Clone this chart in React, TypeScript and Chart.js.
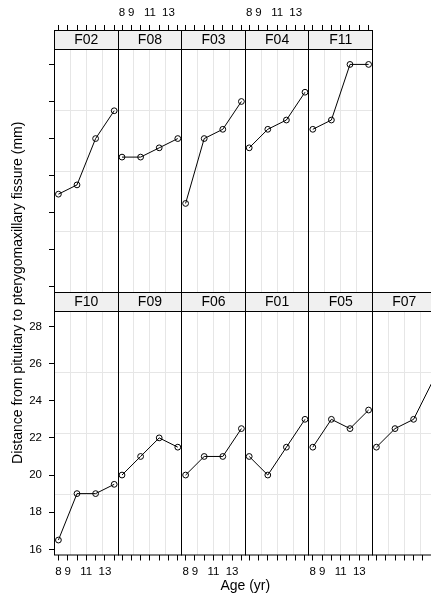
import React, { useEffect, useRef } from 'react';
import { Chart, registerables } from 'chart.js';

Chart.register(...registerables);

// Orthodont growth data, female subjects: distance (mm) at ages 8, 10, 12, 14
const ages = [8, 10, 12, 14];

const F01 = [21, 20, 21.5, 23];
const F02 = [21, 21.5, 24, 25.5];
const F03 = [20.5, 24, 24.5, 26];
const F04 = [23.5, 24.5, 25, 26.5];
const F05 = [21.5, 23, 22.5, 23.5];
const F06 = [20, 21, 21, 22.5];
const F07 = [21.5, 22.5, 23, 25];
const F08 = [23, 23, 23.5, 24];
const F09 = [20, 21, 22, 21.5];
const F10 = [16.5, 19, 19, 19.5];
const F11 = [24.5, 25, 28, 28];

const subjects: Record<string, number[]> = { F01, F02, F03, F04, F05, F06, F07, F08, F09, F10, F11 };

// panel order, top row then bottom row
const topRow = ['F02', 'F08', 'F03', 'F04', 'F11'];
const bottomRow = ['F10', 'F09', 'F06', 'F01', 'F05', 'F07'];

const xTicks = [8, 9, 10, 11, 12, 13, 14];
const xTickLabels = ['8', '9', '', '11', '', '13', ''];
const yTicks = [16, 18, 20, 22, 24, 26, 28];
const yTickLabels = ['16', '18', '20', '22', '24', '26', '28'];
const xLimits = [7.58, 14.42];
const yLimits = [15.695, 28.805];

const xTitle = 'Age (yr)';
const yTitle = 'Distance from pituitary to pterygomaxillary fissure (mm)';

const FONT = '"Liberation Sans", Arial, Helvetica, sans-serif';

// trellis geometry
const LEFT = 54.5;
const COL_W = 63.6;
const TICK = 5.5;
const rowsLayout = [
  { names: topRow, stripTop: 30.5, panelTop: 49.5, panelBottom: 292.5 },
  { names: bottomRow, stripTop: 292.5, panelTop: 311.5, panelBottom: 555 },
];

type Panel = {
  name: string;
  row: number;
  col: number;
  left: number;
  right: number;
  stripTop: number;
  top: number;
  bottom: number;
};

const panels: Panel[] = [];
rowsLayout.forEach((r, ri) => {
  r.names.forEach((name, ci) => {
    panels.push({
      name,
      row: ri,
      col: ci,
      left: LEFT + ci * COL_W,
      right: LEFT + (ci + 1) * COL_W,
      stripTop: r.stripTop,
      top: r.panelTop,
      bottom: r.panelBottom,
    });
  });
});

const crisp = (v: number) => Math.floor(v) + 0.5;

const trellisPlugin = {
  id: 'trellis',
  afterLayout(chart: any) {
    panels.forEach((p, k) => {
      const xs = chart.scales[`x${k}`];
      const ys = chart.scales[`y${k}`];
      Object.assign(xs, {
        left: p.left,
        right: p.right,
        top: p.bottom,
        bottom: p.bottom,
        width: p.right - p.left,
        height: 0,
      });
      xs.configure();
      Object.assign(ys, {
        left: p.left,
        right: p.left,
        top: p.top,
        bottom: p.bottom,
        width: 0,
        height: p.bottom - p.top,
      });
      ys.configure();
    });
  },
  beforeDatasetsDraw(chart: any) {
    const ctx = chart.ctx as CanvasRenderingContext2D;
    ctx.save();
    ctx.strokeStyle = '#e6e6e6';
    ctx.lineWidth = 1;
    panels.forEach((p, k) => {
      const xs = chart.scales[`x${k}`];
      const ys = chart.scales[`y${k}`];
      ctx.beginPath();
      for (let i = 1; i <= 3; i++) {
        const gx = crisp(xs.getPixelForValue(xLimits[0] + (i * (xLimits[1] - xLimits[0])) / 4));
        ctx.moveTo(gx, p.top);
        ctx.lineTo(gx, p.bottom);
        const gy = crisp(ys.getPixelForValue(yLimits[0] + (i * (yLimits[1] - yLimits[0])) / 4));
        ctx.moveTo(p.left, gy);
        ctx.lineTo(p.right, gy);
      }
      ctx.stroke();
    });
    ctx.restore();
  },
  afterDatasetsDraw(chart: any) {
    const ctx = chart.ctx as CanvasRenderingContext2D;
    ctx.save();
    ctx.lineWidth = 1;
    ctx.strokeStyle = '#000';
    ctx.fillStyle = '#000';

    panels.forEach((p, k) => {
      const xs = chart.scales[`x${k}`];
      const ys = chart.scales[`y${k}`];
      const l = crisp(p.left);
      const r = crisp(p.right);

      // strip
      ctx.fillStyle = '#f0f0f0';
      ctx.fillRect(l, p.stripTop, r - l, p.top - p.stripTop);
      ctx.strokeRect(l, p.stripTop, r - l, p.top - p.stripTop);
      ctx.fillStyle = '#000';
      ctx.font = `14px ${FONT}`;
      ctx.textAlign = 'center';
      ctx.textBaseline = 'middle';
      ctx.fillText(p.name, (p.left + p.right) / 2, (p.stripTop + p.top) / 2 + 0.5);

      // panel box
      ctx.strokeRect(l, p.top, r - l, p.bottom - p.top);

      // x ticks: bottom row below, top row above the strip
      ctx.font = `11.5px ${FONT}`;
      ctx.beginPath();
      xTicks.forEach((t) => {
        const px = crisp(xs.getPixelForValue(t));
        if (p.row === 1) {
          ctx.moveTo(px, p.bottom);
          ctx.lineTo(px, p.bottom + TICK);
        } else {
          ctx.moveTo(px, p.stripTop);
          ctx.lineTo(px, p.stripTop - TICK);
        }
      });
      ctx.stroke();
      const showX = p.row === 1 ? p.col % 2 === 0 : p.col % 2 === 1;
      if (showX) {
        xTicks.forEach((t, i) => {
          if (!xTickLabels[i]) return;
          const px = xs.getPixelForValue(t);
          ctx.fillText(xTickLabels[i], px, p.row === 1 ? 572 : 13);
        });
      }

      // y ticks on the first column
      if (p.col === 0) {
        ctx.beginPath();
        yTicks.forEach((t) => {
          const py = crisp(ys.getPixelForValue(t));
          ctx.moveTo(p.left, py);
          ctx.lineTo(p.left - TICK, py);
        });
        ctx.stroke();
        if (p.row === 1) {
          ctx.textAlign = 'right';
          yTicks.forEach((t, i) => {
            ctx.fillText(yTickLabels[i], 42, ys.getPixelForValue(t));
          });
          ctx.textAlign = 'center';
        }
      }
    });

    // axis titles
    ctx.font = `14px ${FONT}`;
    ctx.textAlign = 'center';
    ctx.textBaseline = 'middle';
    ctx.fillText(xTitle, LEFT + 3 * COL_W, 586);
    ctx.translate(18.5, (30.5 + 555) / 2);
    ctx.rotate(-Math.PI / 2);
    ctx.fillText(yTitle, 0, 0);
    ctx.restore();
  },
};

export default function App() {
  const canvasRef = useRef<HTMLCanvasElement | null>(null);

  useEffect(() => {
    const canvas = canvasRef.current;
    if (!canvas) return;

    const scales: Record<string, any> = {};
    panels.forEach((_, k) => {
      scales[`x${k}`] = { type: 'linear', axis: 'x', position: 'bottom', min: xLimits[0], max: xLimits[1], display: false };
      scales[`y${k}`] = { type: 'linear', axis: 'y', position: 'left', min: yLimits[0], max: yLimits[1], display: false };
    });

    const chart = new Chart(canvas, {
      type: 'line',
      data: {
        datasets: panels.map((p, k) => ({
          label: p.name,
          data: ages.map((a, i) => ({ x: a, y: subjects[p.name][i] })),
          xAxisID: `x${k}`,
          yAxisID: `y${k}`,
          borderColor: '#000',
          borderWidth: 1,
          pointRadius: 2.9,
          pointBorderWidth: 1,
          pointBorderColor: '#000',
          pointBackgroundColor: 'rgba(0,0,0,0)',
          fill: false,
          tension: 0,
          clip: false as any,
        })),
      },
      options: {
        responsive: false,
        animation: false,
        devicePixelRatio: 1,
        events: [],
        layout: { padding: 0 },
        plugins: {
          legend: { display: false },
          tooltip: { enabled: false },
        },
        scales,
      },
      plugins: [trellisPlugin],
    });

    return () => chart.destroy();
  }, []);

  return (
    <div style={{ position: 'absolute', left: 0, top: 0, width: 431, height: 598, overflow: 'hidden', background: '#fff' }}>
      <canvas ref={canvasRef} width={431} height={598} style={{ display: 'block' }} />
    </div>
  );
}
